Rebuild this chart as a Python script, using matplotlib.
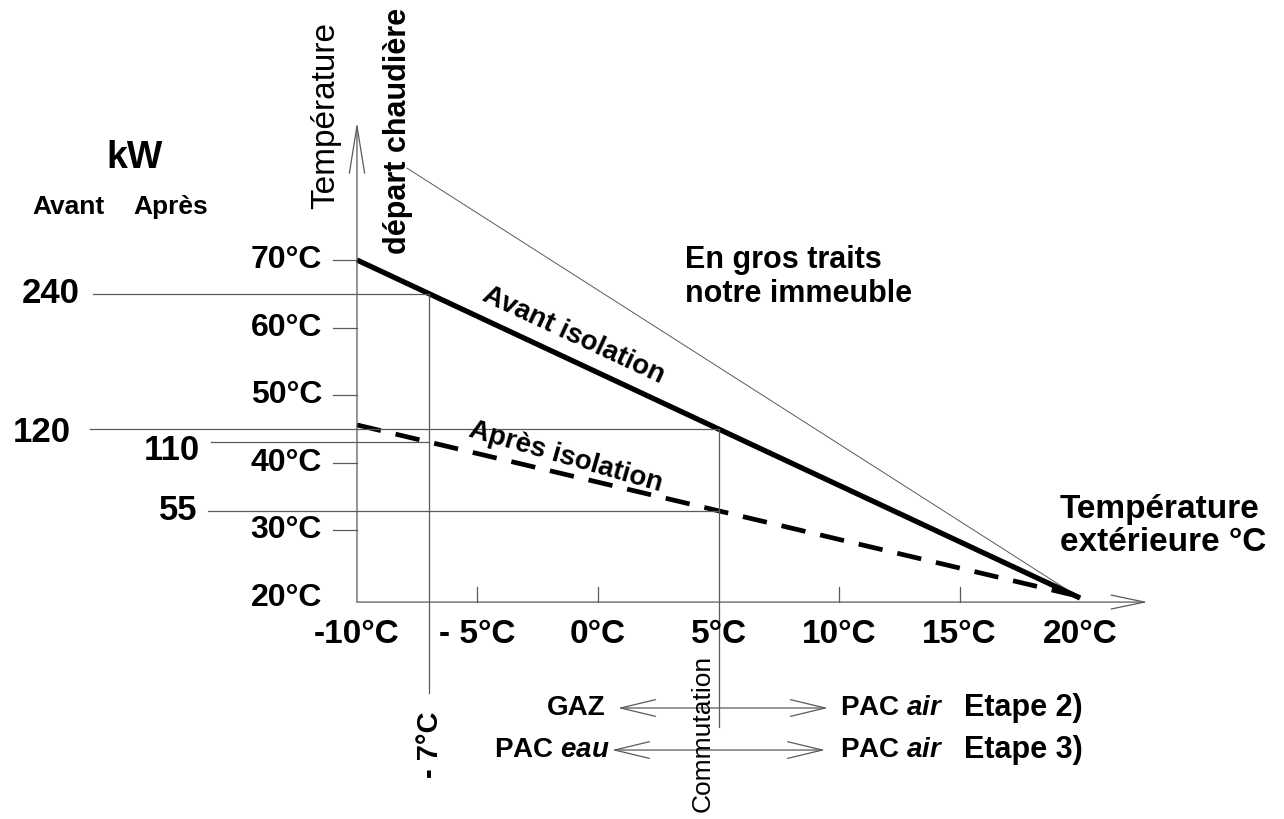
import matplotlib
matplotlib.use("Agg")
import matplotlib.pyplot as plt
import numpy as np

# Loi d'eau : température de départ chaudière selon la température extérieure
temp_ext = [-10, 20]
depart_avant = [70, 20]      # avant isolation
depart_apres = [45.6, 20.2]  # après isolation
guide_ext = [-7.93, 20]      # trait fin "départ chaudière"
guide_depart = [83.6, 20]

y_ticks = [30, 40, 50, 60, 70]
y_labels = ["20°C", "30°C", "40°C", "50°C", "60°C", "70°C"]
y_label_vals = [20, 30, 40, 50, 60, 70]
x_ticks = [-5, 0, 10, 15]
x_label_vals = [-10, -5, 0, 5, 10, 15, 20]
x_labels = ["-10°C", "- 5°C", "0°C", "5°C", "10°C", "15°C", "20°C"]

# Puissances (kW) lues aux températures de base -7°C et de commutation 5°C
kw_labels = ["240", "120", "110", "55"]
kw_temp = [-7, 5, -7, 5]
kw_courbe = ["avant", "avant", "apres", "apres"]

# mise en page (repère de données = °C)
kw_x0 = [-20.95, -21.08, -16.06, -16.18]
kw_gap = [0.55, 0.8, 0.45, 0.45]
kw_dy = [0.1, -0.5, -1.3, 0]

plt.rcParams["font.family"] = ["Liberation Sans", "DejaVu Sans"]
plt.rcParams["mathtext.fontset"] = "custom"
plt.rcParams["mathtext.it"] = "Liberation Sans:italic:bold"
plt.rcParams["mathtext.rm"] = "Liberation Sans:bold"

fig = plt.figure(figsize=(12.84, 8.19), dpi=100)
ax = fig.add_axes([0, 0, 1, 1])
ax.set_xlim(-24.81, 28.46)
ax.set_ylim(-12.69, 108.46)
ax.axis("off")

gris = "#5a5a5a"
axe_y0 = 19.4

# axes avec flèches ouvertes
ax.annotate("", xy=(-10, 90.4), xytext=(-10, axe_y0),
            arrowprops=dict(arrowstyle="->,head_length=3.4,head_width=0.55",
                            color=gris, lw=0.9, mutation_scale=10,
                            shrinkA=0, shrinkB=0))
ax.annotate("", xy=(22.8, axe_y0), xytext=(-10, axe_y0),
            arrowprops=dict(arrowstyle="->,head_length=2.4,head_width=0.5",
                            color=gris, lw=0.9, mutation_scale=10,
                            shrinkA=0, shrinkB=0))

# graduations
for v in y_ticks:
    ax.plot([-11, -10], [v, v], color=gris, lw=0.9)
for v in x_ticks:
    ax.plot([v, v], [axe_y0, axe_y0 + 2.3], color=gris, lw=0.9)
for v, lab in zip(y_label_vals, y_labels):
    ax.text(-11.45, v, lab, ha="right", va="center", fontsize=23,
            fontweight="bold")
for v, lab in zip(x_label_vals, x_labels):
    ax.text(v, 14.67, lab, ha="center", va="center", fontsize=24,
            fontweight="bold")

# courbes
ax.plot(guide_ext, guide_depart, color=gris, lw=0.7)
ax.plot(temp_ext, depart_avant, color="black", lw=3.8, solid_capstyle="butt")
ax.plot(temp_ext, depart_apres, color="black", lw=3.4,
        linestyle=(0, (5.2, 3.2)))

# lignes de lecture des puissances
courbes = {"avant": depart_avant, "apres": depart_apres}
for lab, t, c, x0, g, dy in zip(kw_labels, kw_temp, kw_courbe, kw_x0,
                                kw_gap, kw_dy):
    y = np.interp(t, temp_ext, courbes[c])
    ax.plot([x0, t], [y, y], color=gris, lw=0.9)
    ax.text(x0 - g, y + dy, lab, ha="right", va="center", fontsize=25,
            fontweight="bold")

# verticales -7°C et commutation 5°C
y_m7 = np.interp(-7, temp_ext, depart_avant)
y_p5 = np.interp(5, temp_ext, depart_avant)
ax.plot([-7, -7], [y_m7, 5.95], color=gris, lw=0.9)
ax.plot([5, 5], [y_p5, 0.9], color=gris, lw=0.9)

# textes
ax.text(-19.21, 85.1, "kW", ha="center", va="center", fontsize=27,
        fontweight="bold")
ax.text(-21.99, 77.8, "Avant", ha="center", va="center", fontsize=19,
        fontweight="bold")
ax.text(-17.72, 77.8, "Après", ha="center", va="center", fontsize=19,
        fontweight="bold")
ax.text(-11.29, 91.4, "Température", rotation=90, ha="center", va="center",
        fontsize=24)
ax.text(-8.3, 89.1, "départ chaudière", rotation=90, ha="center",
        va="center", fontsize=22, fontweight="bold")
ax.text(-1.0, 58.8, "Avant isolation", rotation=-25, ha="center",
        va="center", fontsize=20, fontweight="bold")
ax.text(-1.33, 40.9, "Après isolation", rotation=-16, ha="center",
        va="center", fontsize=20, fontweight="bold")
ax.text(3.61, 67.5, "En gros traits\nnotre immeuble", ha="left",
        va="center", fontsize=22, fontweight="bold", linespacing=1.15)
ax.text(19.17, 30.65, "Température\nextérieure °C", ha="left",
        va="center", fontsize=24, fontweight="bold", linespacing=1.1)

# bascule des générateurs
rangs_y = [3.73, -2.49]
ax.annotate("", xy=(0.83, rangs_y[0]), xytext=(9.54, rangs_y[0]),
            arrowprops=dict(arrowstyle="<->,head_length=2.5,head_width=0.6",
                            color=gris, lw=0.9, mutation_scale=10,
                            shrinkA=0, shrinkB=0))
ax.annotate("", xy=(0.58, rangs_y[1]), xytext=(9.42, rangs_y[1]),
            arrowprops=dict(arrowstyle="<->,head_length=2.5,head_width=0.6",
                            color=gris, lw=0.9, mutation_scale=10,
                            shrinkA=0, shrinkB=0))
ax.text(0.33, rangs_y[0], "GAZ", ha="right", va="center", fontsize=20,
        fontweight="bold")
ax.text(0.5, rangs_y[1], r"PAC $\mathit{eau}$", ha="right", va="center",
        fontsize=20, fontweight="bold")
for ry, etape in zip(rangs_y, ["Etape 2)", "Etape 3)"]):
    ax.text(10.04, ry, r"PAC $\mathit{air}$", ha="left", va="center",
            fontsize=20, fontweight="bold")
    ax.text(15.2, ry, etape, ha="left", va="center", fontsize=22,
            fontweight="bold")
ax.text(4.36, 0.03, "Commutation", rotation=90, ha="center", va="center",
        fontsize=19)
ax.text(-6.97, -1.75, "- 7°C", rotation=90, ha="center", va="center",
        fontsize=21, fontweight="bold")

fig.savefig("out.png", dpi=100)
